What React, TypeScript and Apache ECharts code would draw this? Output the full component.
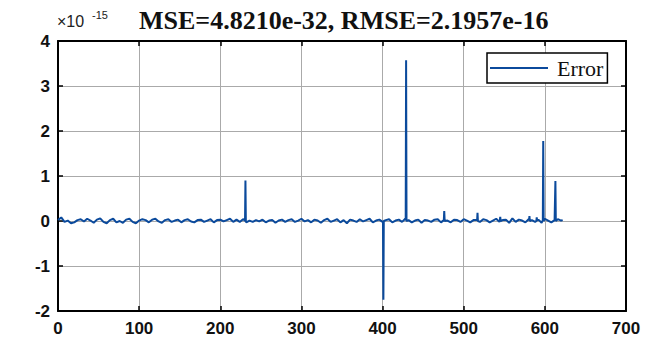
import React, { useEffect, useRef } from "react";
import * as echarts from "echarts";

const titleText = "MSE=4.8210e-32, RMSE=2.1957e-16";
const seriesName = "Error";
const xTicks = { min: 0, max: 700, interval: 100 };
const yTicks = { min: -2, max: 4, interval: 1 };

// background error samples (×1e-15) at x = 0, 4, 8, ..., 620
const noiseStep = 4;
const noise = [
  0.02, 0.08, -0.02, 0.01, -0.05, -0.03, 0.02, 0.04, -0.01, 0.05, 0.01, -0.04, 0.03, 0.06, -0.02, -0.05, 0.02, 0.05, -0.03, 0.0,
  -0.04, 0.03, 0.05, -0.02, -0.05, 0.01, 0.04, 0.02, -0.03, 0.03, 0.05, -0.01, -0.04, 0.02, 0.04, -0.02, 0.01, 0.03, -0.03, 0.02,
  0.04, -0.01, -0.03, 0.02, 0.03, -0.02, 0.01, 0.04, -0.03, 0.02, 0.03, -0.01, 0.02, 0.05, -0.02, 0.03, -0.02, 0.04, -0.03, 0.01,
  -0.02, 0.02, -0.01, 0.03, -0.03, 0.01, 0.02, -0.04, 0.01, 0.03, -0.02, 0.02, 0.04, -0.02, 0.01, 0.05, -0.01, 0.02, -0.03, 0.03,
  0.01, -0.04, 0.02, 0.05, -0.02, 0.01, 0.04, -0.03, 0.02, -0.05, 0.03, 0.01, -0.02, 0.04, -0.01, 0.02, 0.05, -0.03, 0.01, 0.03,
  -0.02, 0.02, 0.04, -0.03, 0.01, 0.03, -0.02, 0.05, 0.02, -0.03, 0.01, 0.03, -0.04, 0.02, 0.01, -0.02, 0.03, 0.04, -0.03, 0.02,
  0.01, -0.03, 0.03, 0.02, -0.02, 0.04, 0.01, -0.03, 0.02, 0.03, -0.02, 0.04, 0.02, -0.03, 0.01, 0.05, -0.02, 0.02, 0.03, -0.04,
  0.06, -0.02, 0.03, 0.01, -0.03, 0.04, 0.02, -0.02, 0.03, -0.04, 0.05, 0.01, -0.03, 0.02, 0.04, 0.01,
];

// isolated spikes [x, value] with their immediate neighbours
const spikes: [number, number][] = [
  [230.5, 0.01], [231, 0.9], [231.5, -0.01],
  [400.5, 0.0], [401, -1.75], [401.5, 0.0],
  [428.5, 0.02], [429, 3.57], [429.5, 0.0],
  [475.5, 0.02], [476, 0.22], [476.5, 0.0],
  [516.5, 0.01], [517, 0.18], [517.5, 0.0],
  [544.5, 0.01], [545, 0.09], [545.5, 0.0],
  [580.5, 0.01], [581, 0.11], [581.5, 0.0],
  [589.5, 0.0], [590, 0.08], [590.5, 0.01],
  [597.5, 0.02], [598, 1.78], [598.5, 0.0],
  [612.5, 0.01], [613, 0.89], [613.5, 0.0],
  [622, 0.02],
];

const lineColor = "#0b4a9c";

export default function App() {
  const ref = useRef<HTMLDivElement>(null);
  useEffect(() => {
    if (!ref.current) return;
    const chart = echarts.init(ref.current, undefined, { renderer: "svg" });
    const pts: [number, number][] = noise.map((v, i) => [i * noiseStep, v] as [number, number]);
    const data = pts.concat(spikes).sort((a, b) => a[0] - b[0]);

    const labelStyle = {
      color: "#111",
      fontFamily: "Liberation Sans",
      fontWeight: "bold" as const,
      fontSize: 17,
    };
    const axisLine = { show: true, onZero: false, lineStyle: { color: "#000", width: 2 } };
    const tick = { show: true, inside: true, length: 5, lineStyle: { color: "#000", width: 1.5 } };

    chart.setOption({
      animation: false,
      backgroundColor: "#fff",
      title: {
        text: titleText,
        left: 134,
        top: 2,
        textStyle: {
          fontFamily: "Liberation Serif",
          fontWeight: "bold",
          fontSize: 26,
          color: "#111",
        },
      },
      graphic: [
        {
          type: "text",
          left: 57,
          top: 13,
          style: { text: "×10", fontFamily: "Liberation Sans", fontSize: 16, fill: "#222" },
        },
        {
          type: "text",
          left: 92,
          top: 9,
          style: { text: "-15", fontFamily: "Liberation Sans", fontSize: 11, fill: "#222" },
        },
      ],
      legend: {
        data: [{ name: seriesName, icon: "rect" }],
        left: 487,
        top: 53,
        orient: "vertical",
        backgroundColor: "#fff",
        borderColor: "#000",
        borderWidth: 1.5,
        borderRadius: 0,
        padding: [3, 4, 3, 3],
        itemWidth: 58,
        itemHeight: 2,
        itemGap: 0,
        itemStyle: { color: lineColor },
        textStyle: { fontFamily: "Liberation Serif", fontSize: 22, color: "#111", padding: [0, 0, 0, 4], lineHeight: 24 },
      },
      grid: { left: 58, right: 20, top: 41, bottom: 29 },
      xAxis: [
        {
          type: "value",
          min: xTicks.min,
          max: xTicks.max,
          interval: xTicks.interval,
          position: "bottom",
          axisLine,
          axisTick: tick,
          axisLabel: { ...labelStyle, margin: 9 },
          splitLine: { show: true, lineStyle: { color: "#aaa", width: 1 } },
        },
        {
          type: "value",
          min: xTicks.min,
          max: xTicks.max,
          interval: xTicks.interval,
          position: "top",
          axisLine,
          axisTick: tick,
          axisLabel: { show: false },
          splitLine: { show: false },
        },
      ],
      yAxis: [
        {
          type: "value",
          min: yTicks.min,
          max: yTicks.max,
          interval: yTicks.interval,
          position: "left",
          axisLine,
          axisTick: tick,
          axisLabel: { ...labelStyle, margin: 8 },
          splitLine: { show: true, lineStyle: { color: "#aaa", width: 1 } },
        },
        {
          type: "value",
          min: yTicks.min,
          max: yTicks.max,
          interval: yTicks.interval,
          position: "right",
          axisLine,
          axisTick: tick,
          axisLabel: { show: false },
          splitLine: { show: false },
        },
      ],
      series: [
        {
          name: seriesName,
          type: "line",
          data,
          xAxisIndex: 0,
          yAxisIndex: 0,
          symbol: "none",
          lineStyle: { color: lineColor, width: 2 },
          itemStyle: { color: lineColor },
        },
      ],
    });
    return () => chart.dispose();
  }, []);
  return (
    <div
      ref={ref}
      style={{ position: "fixed", left: 0, top: 0, width: 646, height: 340, background: "#fff" }}
    />
  );
}
